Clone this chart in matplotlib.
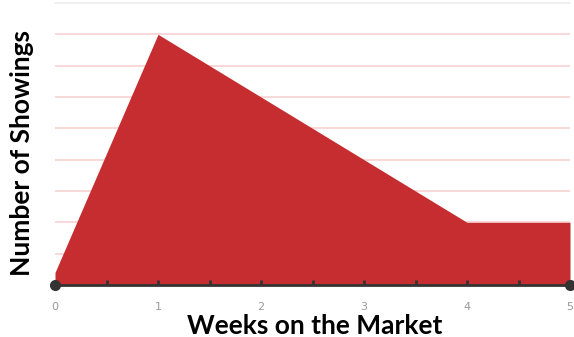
import numpy as np
import matplotlib.pyplot as plt

weeks = [0, 1, 2, 3, 4, 5]
showings = [0.4, 8, 6, 4, 2, 2]
x_ticks = [0, 1, 2, 3, 4, 5]
y_grid = [1, 2, 3, 4, 5, 6, 7, 8]

W, H = 574, 337
fig = plt.figure(figsize=(W / 100, H / 100), dpi=100)
fig.patch.set_facecolor('white')

# faint panel behind the plot
bg = fig.add_axes([45 / W, (H - 312) / H, (W - 45) / W, 312 / H])
bg.set_facecolor('#fcfcfc')
bg.axis('off')
bg.patch.set_visible(True)

ax = fig.add_axes([55 / W, (H - 285) / H, 515 / W, 282 / H])
ax.set_facecolor('none')
ax.set_xlim(0, 5)
ax.set_ylim(0, 9)

for g in y_grid:
    ax.axhline(g, color='#f9d4d4', lw=1.3, zorder=0)
ax.axhline(9, color='#eeeeee', lw=1.3, zorder=0, clip_on=False)

ax.fill_between(weeks, showings, 0, color='#c62d30', lw=0, zorder=2)

ax.axhline(0, color='#333333', lw=2, zorder=3, clip_on=False)
ax.plot([0, 5], [0, 0], 'o', color='#333333', ms=7, zorder=4, clip_on=False)
minor = np.arange(0.5, 5, 1.0)
ax.plot(minor, np.zeros_like(minor), '|', color='#333333', ms=7, mew=2, zorder=4)
ax.plot(x_ticks[1:-1], np.zeros(4), '|', color='#333333', ms=7, mew=2, zorder=4)

for s in ax.spines.values():
    s.set_visible(False)
ax.set_yticks([])
ax.set_xticks(x_ticks)
ax.tick_params(axis='x', length=0, pad=12, labelsize=8, labelcolor='#999999')

fig.text(315 / W, (H - 326) / H, 'Weeks on the Market', fontsize=19,
         fontweight='bold', family='Lato', ha='center', va='center')
fig.text(22 / W, (H - 153) / H, 'Number of Showings', rotation=90,
         fontsize=19, fontweight='bold', family='Lato', ha='center', va='center')

fig.savefig('out.png', dpi=100)
